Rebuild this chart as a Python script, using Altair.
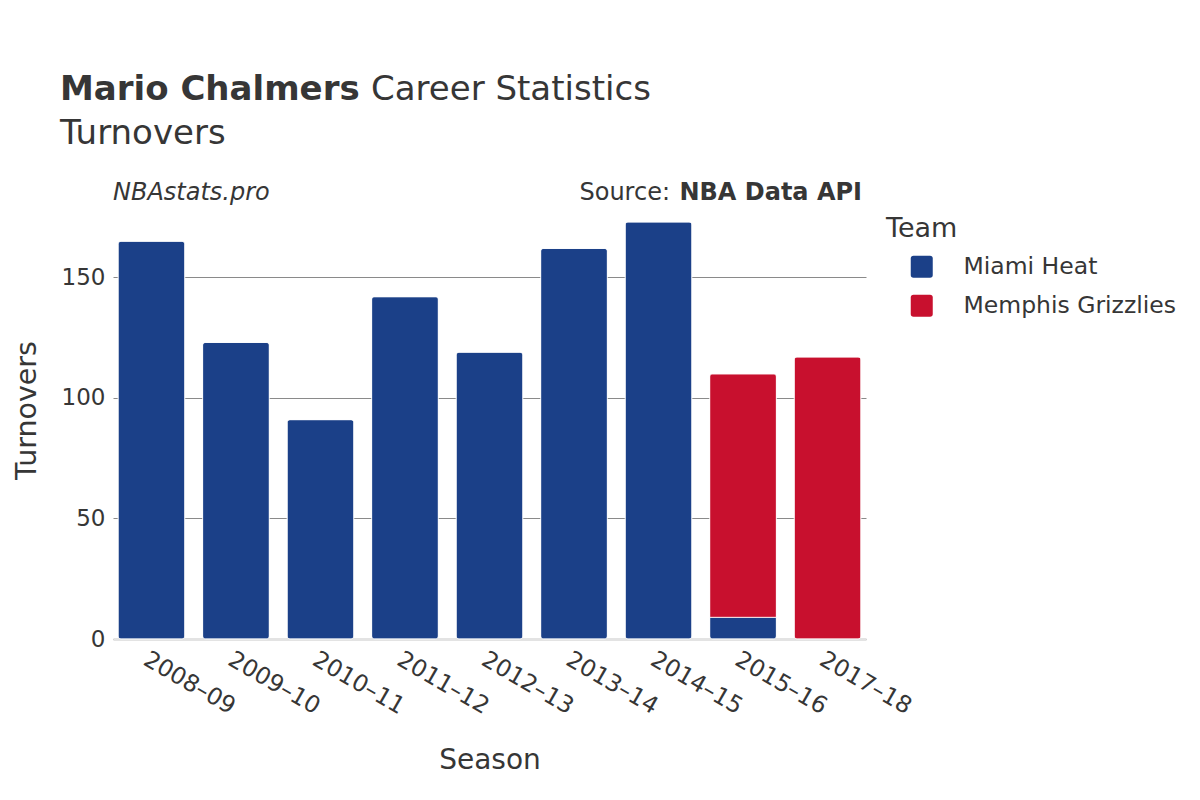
import altair as alt
import pandas as pd

seasons = ["2008–09", "2009–10", "2010–11", "2011–12", "2012–13",
           "2013–14", "2014–15", "2015–16", "2015–16", "2017–18"]
teams = ["Miami Heat"] * 8 + ["Memphis Grizzlies"] * 2
turnovers = [165, 123, 91, 142, 119, 162, 173, 9, 101, 117]
team_order = ["Miami Heat", "Memphis Grizzlies"]
team_colors = ["#1b4088", "#c8102e"]
season_order = ["2008–09", "2009–10", "2010–11", "2011–12", "2012–13",
                "2013–14", "2014–15", "2015–16", "2017–18"]

df = pd.DataFrame({
    "Season": seasons,
    "Team": teams,
    "Turnovers": turnovers,
    "ord": [team_order.index(t) for t in teams],
})

FONT = "DejaVu Sans"
TXT = "#363636"
W, H = 753, 458

bars = alt.Chart(df).mark_bar(cornerRadius=3, stroke="white", strokeWidth=0.8).encode(
    x=alt.X("Season:N", sort=season_order,
            scale=alt.Scale(paddingInner=0.21, paddingOuter=0.06),
            axis=alt.Axis(labelAngle=30, labelFontSize=23.5, labelColor=TXT,
                          labelFont=FONT, ticks=False, labelPadding=8,
                          domainColor="#e3e3e3", domainWidth=3,
                          title="Season", titleFontSize=28, titleFont=FONT,
                          titleColor=TXT, titleFontWeight="normal",
                          titlePadding=28)),
    y=alt.Y("Turnovers:Q", stack="zero",
            scale=alt.Scale(domain=[0, 190], nice=False),
            axis=alt.Axis(values=[0, 50, 100, 150], labelFontSize=23,
                          labelColor=TXT, labelFont=FONT, ticks=False,
                          domain=False, labelPadding=8, gridColor="#8a8a8a",
                          gridWidth=1, title="Turnovers", titleFontSize=28.5,
                          titleFont=FONT, titleColor=TXT,
                          titleFontWeight="normal", titlePadding=20)),
    color=alt.Color("Team:N", sort=team_order,
                    scale=alt.Scale(domain=team_order, range=team_colors),
                    legend=alt.Legend(title=None, orient="none", legendX=797,
                                      legendY=74, labelFontSize=23.5,
                                      labelFont=FONT, labelColor=TXT,
                                      labelLimit=400,
                                      symbolSize=484, symbolStrokeWidth=0,
                                      symbolType="M-0.75,-1H0.75Q1,-1 1,-0.75V0.75Q1,1 0.75,1H-0.75Q-1,1 -1,0.75V-0.75Q-1,-1 -0.75,-1Z",
                                      labelOffset=30, rowPadding=14,
                                      padding=0)),
    order=alt.Order("ord:Q"),
)

one = pd.DataFrame({"a": [0]})

def label(text, x, y, size, weight="normal", style="normal", align="left"):
    return alt.Chart(one).mark_text(
        text=text, font=FONT, fontSize=size, fontWeight=weight,
        fontStyle=style, color=TXT, align=align, baseline="alphabetic",
    ).encode(x=alt.value(x), y=alt.value(y))

title1 = label("Mario Chalmers", -53, -81, 34, weight="bold")
title2 = label("Career Statistics", 258, -81, 34)
sub = label("Turnovers", -53, -37, 34)
left = label("NBAstats.pro", 0, 19, 24, style="italic")
right_a = label("Source:", 557, 19, 24, align="right")
right_b = label("NBA Data API", 749, 19, 24, weight="bold", align="right")
team = label("Team", 773, 56, 27)

chart = alt.layer(bars, title1, title2, sub, left, right_a, right_b, team).properties(
    width=W, height=H,
    background="white",
    autosize=alt.AutoSizeParams(type="none"),
    padding={"left": 105, "top": 173, "right": 320, "bottom": 153},
).configure_view(strokeWidth=0, stroke="transparent")

chart.save("out.html", embed_options={"renderer": "svg", "actions": False})
